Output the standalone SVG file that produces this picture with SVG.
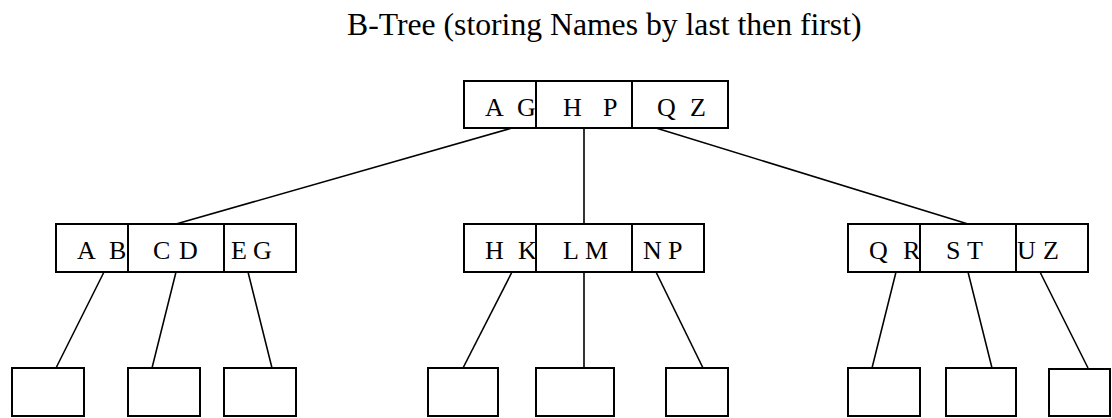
<svg xmlns="http://www.w3.org/2000/svg" width="1112" height="418" viewBox="0 0 1112 418">
  <style>
    .box { fill: #ffffff; stroke: #000000; stroke-width: 2; }
    .div { stroke: #000000; stroke-width: 2; }
    .edge { stroke: #000000; stroke-width: 1.6; fill: none; }
    .key { font-family: "Liberation Serif", "Times New Roman", serif; font-size: 26px; fill: #000000; }
    .title { font-family: "Liberation Serif", "Times New Roman", serif; font-size: 31.7px; fill: #000000; }
  </style>
  <rect x="0" y="0" width="1112" height="418" fill="#ffffff"/>

  <text class="title" x="347" y="35">B-Tree (storing Names by last then first)</text>

  <!-- connectors -->
  <g id="connectors">
    <line class="edge" x1="512" y1="128" x2="176" y2="224"/>
    <line class="edge" x1="584" y1="128" x2="584" y2="224"/>
    <line class="edge" x1="656" y1="128" x2="968" y2="224"/>

    <line class="edge" x1="104" y1="272" x2="56" y2="368"/>
    <line class="edge" x1="176" y1="272" x2="152" y2="368"/>
    <line class="edge" x1="248" y1="272" x2="272" y2="368"/>

    <line class="edge" x1="512" y1="272" x2="463" y2="368"/>
    <line class="edge" x1="584" y1="272" x2="584" y2="368"/>
    <line class="edge" x1="656" y1="272" x2="703" y2="368"/>

    <line class="edge" x1="896" y1="272" x2="872" y2="368"/>
    <line class="edge" x1="968" y1="272" x2="992" y2="368"/>
    <line class="edge" x1="1040" y1="272" x2="1088" y2="368"/>
  </g>

  <!-- root node -->
  <g id="root">
    <rect class="box" x="464" y="81" width="264" height="47"/>
    <line class="div" x1="536" y1="81" x2="536" y2="128"/>
    <line class="div" x1="632" y1="81" x2="632" y2="128"/>
    <text class="key" x="485 505 517" y="116">A G</text>
    <text class="key" x="563 590 603" y="116">H P</text>
    <text class="key" x="657 680 690" y="116">Q Z</text>
  </g>

  <!-- internal nodes -->
  <g id="node-ag">
    <rect class="box" x="56" y="224" width="240" height="48"/>
    <line class="div" x1="128" y1="224" x2="128" y2="272"/>
    <line class="div" x1="224" y1="224" x2="224" y2="272"/>
    <text class="key" x="77 100 109" y="259">A B</text>
    <text class="key" x="153 174 179" y="259">C D</text>
    <text class="key" x="231 248 253" y="259">E G</text>
  </g>

  <g id="node-hp">
    <rect class="box" x="464" y="224" width="240" height="48"/>
    <line class="div" x1="536" y1="224" x2="536" y2="272"/>
    <line class="div" x1="632" y1="224" x2="632" y2="272"/>
    <text class="key" x="485 510 518" y="259">H K</text>
    <text class="key" x="563 581 585" y="259">L M</text>
    <text class="key" x="643 663 668" y="259">N P</text>
  </g>

  <g id="node-qz">
    <rect class="box" x="848" y="224" width="240" height="48"/>
    <line class="div" x1="920" y1="224" x2="920" y2="272"/>
    <line class="div" x1="1016" y1="224" x2="1016" y2="272"/>
    <text class="key" x="869 895 903" y="259">Q R</text>
    <text class="key" x="946 962 967" y="259">S T</text>
    <text class="key" x="1017 1038 1043" y="259">U Z</text>
  </g>

  <!-- leaf pages -->
  <g id="leaf-1"><rect class="box" x="12" y="368" width="72" height="48"/></g>
  <g id="leaf-2"><rect class="box" x="128" y="368" width="72" height="48"/></g>
  <g id="leaf-3"><rect class="box" x="224" y="368" width="72" height="48"/></g>
  <g id="leaf-4"><rect class="box" x="428" y="368" width="70" height="48"/></g>
  <g id="leaf-5"><rect class="box" x="536" y="368" width="78" height="48"/></g>
  <g id="leaf-6"><rect class="box" x="666" y="368" width="62" height="48"/></g>
  <g id="leaf-7"><rect class="box" x="848" y="368" width="72" height="48"/></g>
  <g id="leaf-8"><rect class="box" x="946" y="368" width="70" height="48"/></g>
  <g id="leaf-9"><rect class="box" x="1049" y="369" width="61" height="47"/></g>
</svg>
